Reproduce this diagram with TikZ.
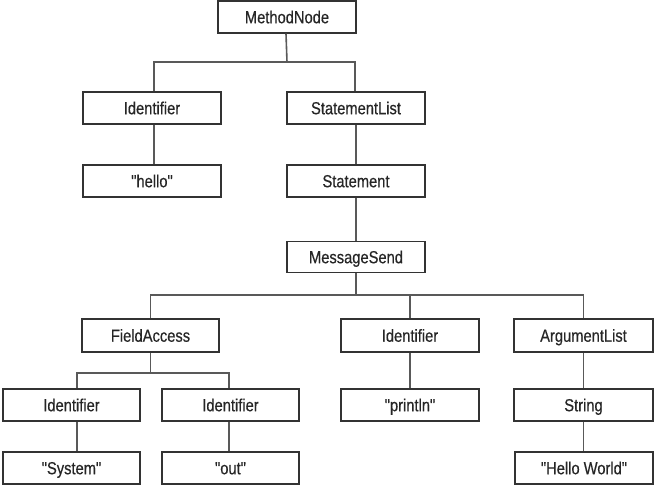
\documentclass[tikz,border=0pt]{standalone}
\usepackage{fontspec}
\newfontfamily\boxfont{Liberation Sans}[FakeStretch=0.84,FakeBold=0.4]
\begin{document}
\begin{tikzpicture}[x=1pt,y=-1pt,
  box/.style={draw=black!80,line width=1.3pt,minimum width=138pt,minimum height=32pt,inner sep=0pt,
    text height=12.5pt,text depth=0pt,
    font=\boxfont\fontsize{17.5}{19}\selectfont,text=black!85,fill=white},
  link/.style={draw=black!65,line width=1.6pt}]
\useasboundingbox[fill=white] (0,0) rectangle (654,486);
\node[box] (mn) at (287,17) {MethodNode};
\node[box] (id1) at (152,108) {Identifier};
\node[box] (sl) at (356,108) {StatementList};
\node[box] (hello) at (152,181) {"hello"};
\node[box] (st) at (356,181) {Statement};
\node[box,minimum height=31pt] (ms) at (356,257) {MessageSend};
\node[box,minimum width=137pt,minimum height=33pt] (fa) at (150.5,335.5) {FieldAccess};
\node[box,minimum width=137pt] (id2) at (71.5,405) {Identifier};
\node[box,minimum width=137pt] (id3) at (230.5,405) {Identifier};
\node[box,minimum height=33pt] (id4) at (410,335.5) {Identifier};
\node[box,minimum width=139pt,minimum height=33pt] (al) at (583.5,335.5) {ArgumentList};
\node[box,minimum width=137pt] (sys) at (71.5,468) {"System"};
\node[box,minimum width=137pt] (out) at (230.5,468) {"out"};
\node[box] (pln) at (410,405) {"println"};
\node[box,minimum width=139pt] (str) at (583.5,405) {String};
\node[box] (hw) at (584,468) {"Hello World"};
\coordinate (j1) at (287,62);
\coordinate (j2) at (356,295);
\coordinate (j3) at (150.5,373);
\draw[link] ([xshift=-1pt]mn.south) -- (j1);
\draw[link] ([xshift=2pt]id1.north) |- (j1) -| ([xshift=-1pt]sl.north);
\draw[link] ([xshift=2pt]id1.south) -- ([xshift=2pt]hello.north);
\draw[link] (sl.south) -- (st.north);
\draw[link] (st.south) -- (ms.north);
\draw[link] (ms.south) -- (j2);
\draw[link] (fa.north) |- (j2) -| (al.north);
\draw[link] (id4.north) -- (id4.north |- j2);
\draw[link] (id4.south) -- (pln.north);
\draw[link] (al.south) -- (str.north);
\draw[link] (str.south) -- ([xshift=-0.5pt]hw.north);
\draw[link] (fa.south) -- (j3);
\draw[link] ([xshift=5.5pt]id2.north) |- (j3) -| ([xshift=-1.5pt]id3.north);
\draw[link] ([xshift=5.5pt]id2.south) -- ([xshift=5.5pt]sys.north);
\draw[link] ([xshift=-1.5pt]id3.south) -- ([xshift=-1.5pt]out.north);
\end{tikzpicture}
\end{document}
